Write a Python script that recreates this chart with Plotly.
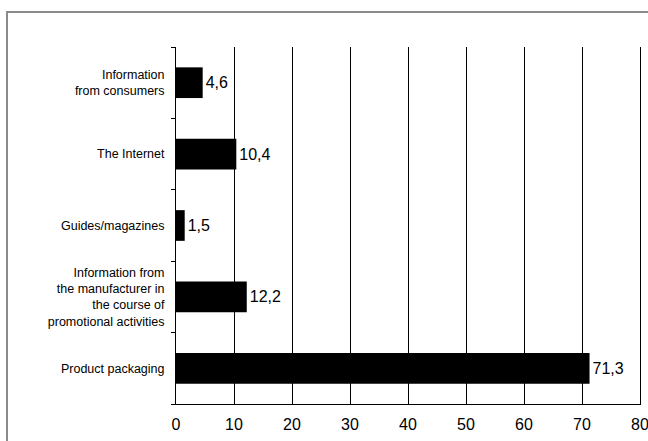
import plotly.graph_objects as go

# Sources of information, listed bottom to top
categories = [
    "Product packaging",
    "Information from<br>the manufacturer in<br>the course of<br>promotional activities",
    "Guides/magazines",
    "The Internet",
    "Information<br>from consumers",
]
shares = [71.3, 12.2, 1.5, 10.4, 4.6]
x_ticks = [0, 10, 20, 30, 40, 50, 60, 70, 80]

FONT = "Liberation Sans, Arial, sans-serif"

fig = go.Figure(
    go.Bar(
        x=shares,
        y=categories,
        orientation="h",
        marker=dict(color="black", line=dict(width=0)),
        texttemplate="%{x:.1f}",
        textposition="outside",
        textfont=dict(family=FONT, size=16, color="black"),
        cliponaxis=False,
    )
)

fig.update_layout(
    width=648,
    height=441,
    margin=dict(l=176, r=8, t=47, b=37),
    paper_bgcolor="white",
    plot_bgcolor="white",
    separators=", ",
    bargap=0.57,
    showlegend=False,
    font=dict(family=FONT, color="black"),
    shapes=[
        # outer chart frame
        dict(
            type="rect", xref="paper", yref="paper",
            x0=-169 / 464, x1=1.2, y0=-0.3, y1=(441 - 12 - 37) / 357,
            line=dict(color="#8a8a8a", width=2), fillcolor="rgba(0,0,0,0)",
            layer="below",
        )
    ],
)

fig.update_xaxes(
    range=[0, 80],
    tickvals=x_ticks,
    showgrid=True,
    gridcolor="black",
    gridwidth=1,
    zeroline=False,
    showline=True,
    linecolor="black",
    linewidth=1,
    ticks="",
    ticklabelstandoff=6,
    ticklabeloverflow="allow",
    automargin=False,
    tickfont=dict(family=FONT, size=16, color="black"),
    fixedrange=True,
)

fig.update_yaxes(
    categoryorder="array",
    categoryarray=categories,
    showgrid=False,
    zeroline=False,
    showline=True,
    mirror=True,
    linecolor="black",
    linewidth=1,
    ticks="outside",
    tickson="boundaries",
    ticklen=4,
    tickcolor="black",
    ticklabelstandoff=8,
    automargin=False,
    tickfont=dict(family=FONT, size=12.5, color="black"),
    fixedrange=True,
)

fig.write_html("out.html")
